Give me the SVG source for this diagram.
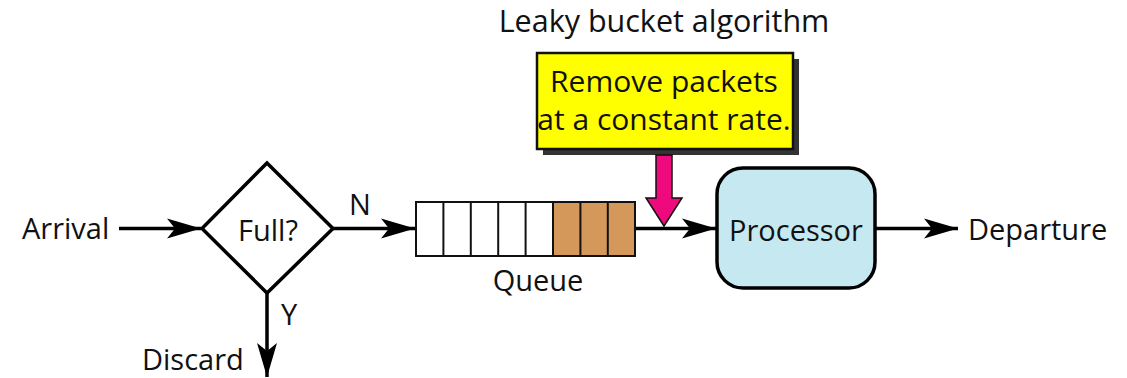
<svg xmlns="http://www.w3.org/2000/svg" width="1127" height="378" viewBox="0 0 1127 378">
<defs>
<style>
text{font-family:"Open Sans","Noto Sans","Liberation Sans",sans-serif;font-size:29px;fill:#111;}
.c{text-anchor:middle;}
.big{font-size:30.5px;}
.ln{stroke:#000;stroke-width:3.5;fill:none;}
.shape{stroke:#000;stroke-width:3.5;}
.cell{stroke:#111;stroke-width:2;}
</style>
<marker id="ah" markerUnits="userSpaceOnUse" markerWidth="36" markerHeight="24" refX="34" refY="12" orient="auto" viewBox="0 0 36 24">
<path d="M0,2 L34,12 L0,22 L8,12 Z" fill="#000"/>
</marker>
</defs>
<text class="c big" x="664" y="32">Leaky bucket algorithm</text>
<g id="connectors">
<line class="ln" x1="119" y1="228.5" x2="201" y2="228.5" marker-end="url(#ah)"/>
<line class="ln" x1="333" y1="228.5" x2="415" y2="228.5" marker-end="url(#ah)"/>
<line class="ln" x1="267" y1="293" x2="267" y2="377" marker-end="url(#ah)"/>
<line class="ln" x1="635" y1="228.5" x2="716" y2="228.5" marker-end="url(#ah)"/>
<line class="ln" x1="875" y1="228.5" x2="958" y2="228.5" marker-end="url(#ah)"/>
<text x="349" y="215">N</text>
<text x="281" y="325">Y</text>
</g>
<g id="arrival"><text x="22" y="239">Arrival</text></g>
<g id="discard"><text x="142" y="370">Discard</text></g>
<g id="full">
<polygon class="shape" points="267,163 333,228.5 267,293 202,228.5" fill="#fff"/>
<text class="c" x="268" y="241">Full?</text>
</g>
<g id="queue">
<rect x="416" y="202" width="219" height="54" fill="#fff" stroke="#111" stroke-width="2"/>
<rect x="553" y="202" width="82" height="54" fill="#d4985a" stroke="#111" stroke-width="2"/>
<line class="cell" x1="443.4" y1="202" x2="443.4" y2="256"/>
<line class="cell" x1="470.8" y1="202" x2="470.8" y2="256"/>
<line class="cell" x1="498.2" y1="202" x2="498.2" y2="256"/>
<line class="cell" x1="525.6" y1="202" x2="525.6" y2="256"/>
<line class="cell" x1="580.4" y1="202" x2="580.4" y2="256"/>
<line class="cell" x1="607.8" y1="202" x2="607.8" y2="256"/>
<text class="c" x="538" y="291">Queue</text>
</g>
<g id="processor">
<rect class="shape" x="717" y="168" width="158" height="120" rx="26" ry="26" fill="#c5e8f1"/>
<text class="c" x="796" y="241">Processor</text>
</g>
<g id="departure"><text x="968" y="240">Departure</text></g>
<g id="note">
<rect x="543" y="59" width="256" height="96" fill="#333"/>
<rect x="537" y="53" width="256" height="96" fill="#ffff00" stroke="#111" stroke-width="2.5"/>
<text class="c" x="664" y="92" style="font-size:30px">Remove packets</text>
<text class="c" x="664" y="130" style="font-size:30px">at a constant rate.</text>
<path d="M656,155 H672 V198 H682 L664,226 L646,198 H656 Z" fill="#ee0a7c" stroke="#111" stroke-width="1.5"/>
</g>
</svg>
